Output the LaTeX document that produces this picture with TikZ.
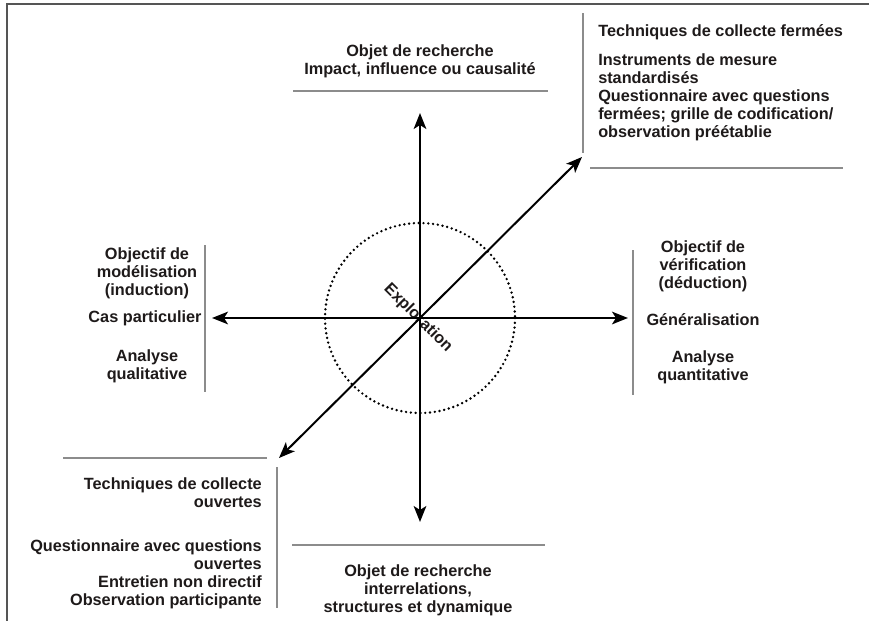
\documentclass[tikz,border=0pt]{standalone}
\usepackage{fontspec}
\setmainfont{Liberation Sans}
\usetikzlibrary{arrows.meta}
\definecolor{rulegray}{HTML}{8C8C8C}
\definecolor{framegray}{HTML}{555555}
\definecolor{inkc}{HTML}{1E1A1A}
\begin{document}
\begin{tikzpicture}[x=0.75pt,y=-0.75pt,
  txt/.style={font=\bfseries\fontsize{12.2}{13.5}\selectfont, inner sep=0pt, text=inkc},
  axis/.style={line width=1.5pt, -{Stealth[length=12pt,width=9.5pt,inset=3pt]}},
  rule/.style={rulegray, line width=1.7pt},
  frame/.style={framegray, line width=1.6pt}]
\useasboundingbox (0,0) rectangle (869,621);
\fill[white] (0,0) rectangle (869,621);
% frame
\draw[frame] (869,4) -- (7,4) -- (7,621);
% centre and axis ends
\coordinate (c) at (420,318);
\coordinate (up) at (420,113);
\coordinate (down) at (420,522);
\coordinate (left) at (212,318);
\coordinate (right) at (628,318);
\coordinate (ur) at (582,157);
\coordinate (ll) at (279,458);
% dotted circle
\draw[line width=2pt, dash pattern=on 0pt off 3.6pt, line cap=round] (c) circle[radius=95];
% Exploration
\node[txt, rotate=-45] (expl) at (418,318) {Exploration};
% axes
\draw[axis] (c) -- (up);
\draw[axis] (c) -- (down);
\draw[axis] (c) -- (left);
\draw[axis] (c) -- (right);
\draw[axis] (c) -- (ur);
\draw[axis] (c) -- (ll);
% rules
\draw[rule] (293,91) -- (548,91);
\draw[rule] (583,13) -- (583,153);
\draw[rule] (590,168) -- (843,168);
\draw[rule] (205,245) -- (205,392);
\draw[rule] (633,250) -- (633,395);
\draw[rule] (63,458) -- (267,458);
\draw[rule] (277,467) -- (277,608);
\draw[rule] (292,545) -- (545,545);
% top
\node[txt, align=center] (top) at (420,61.5) {Objet de recherche\\Impact, influence ou causalité};
% top right
\node[txt, anchor=west] (trA) at (598,32) {Techniques de collecte fermées};
\node[txt, anchor=west, align=left] (trB) at (598,97) {Instruments de mesure\\standardisés\\Questionnaire avec questions\\fermées; grille de codification/\\observation préétablie};
% left
\node[txt, align=center] (lA) at (147,273) {Objectif de\\modélisation\\(induction)};
\node[txt] (lB) at (145,318) {Cas particulier};
\node[txt, align=center] (lC) at (147,366) {Analyse\\qualitative};
% right
\node[txt, align=center] (rA) at (703,266) {Objectif de\\vérification\\(déduction)};
\node[txt] (rB) at (703,320) {Généralisation};
\node[txt, align=center] (rC) at (703,367) {Analyse\\quantitative};
% bottom left
\node[txt, anchor=east, align=right] (blA) at (262,492.5) {Techniques de collecte\\ouvertes};
\node[txt, anchor=east, align=right] (blB) at (262,574.5) {Questionnaire avec questions\\ouvertes\\Entretien non directif\\Observation participante};
% bottom
\node[txt, align=center] (bot) at (418,590) {Objet de recherche\\interrelations,\\structures et dynamique};
\end{tikzpicture}
\end{document}
